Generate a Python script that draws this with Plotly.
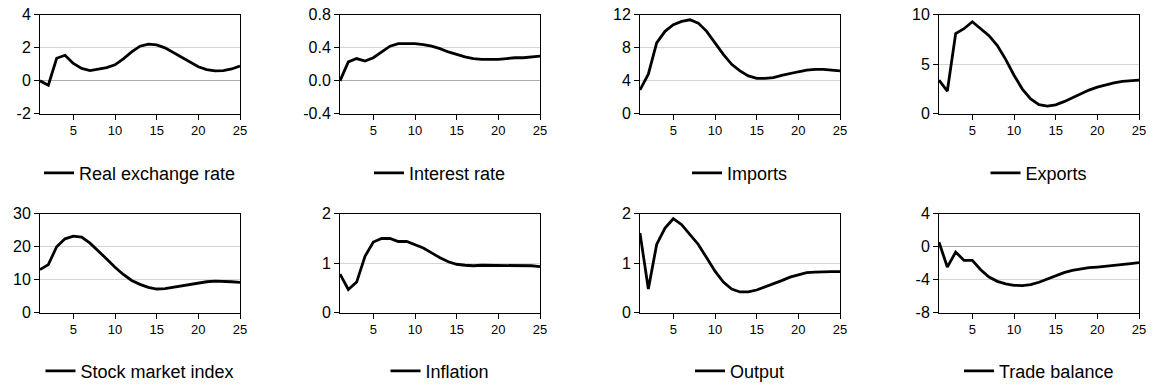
import plotly.graph_objects as go

periods = list(range(1, 26))

real_exchange_rate = [0.0, -0.27, 1.37, 1.55, 1.05, 0.75, 0.62, 0.73, 0.80, 0.97,
                      1.33, 1.75, 2.10, 2.23, 2.18, 2.00, 1.72, 1.42, 1.12, 0.85,
                      0.68, 0.60, 0.62, 0.72, 0.90]
interest_rate = [0.0, 0.23, 0.27, 0.24, 0.28, 0.35, 0.42, 0.45, 0.45, 0.45,
                 0.44, 0.42, 0.39, 0.35, 0.32, 0.29, 0.27, 0.26, 0.26, 0.26,
                 0.27, 0.28, 0.28, 0.29, 0.30]
imports = [2.9, 4.8, 8.6, 10.0, 10.8, 11.2, 11.4, 11.0, 10.0, 8.6,
           7.2, 6.0, 5.2, 4.6, 4.3, 4.3, 4.4, 4.65, 4.9, 5.1,
           5.3, 5.4, 5.4, 5.3, 5.2]
exports = [3.4, 2.3, 8.1, 8.6, 9.3, 8.6, 7.9, 6.9, 5.5, 3.9,
           2.5, 1.5, 0.93, 0.77, 0.9, 1.23, 1.63, 2.03, 2.4, 2.7,
           2.93, 3.13, 3.27, 3.33, 3.4]
stock_market_index = [13.1, 14.6, 20.0, 22.4, 23.2, 22.9, 21.1, 18.8, 16.3, 13.8,
                      11.6, 9.8, 8.6, 7.7, 7.2, 7.3, 7.7, 8.2, 8.7, 9.1,
                      9.4, 9.6, 9.6, 9.4, 9.2]
inflation = [0.78, 0.47, 0.62, 1.14, 1.43, 1.50, 1.50, 1.44, 1.44, 1.38,
             1.31, 1.21, 1.11, 1.03, 0.98, 0.96, 0.95, 0.96, 0.96, 0.96,
             0.96, 0.96, 0.96, 0.95, 0.93]
output = [1.61, 0.48, 1.38, 1.71, 1.90, 1.78, 1.58, 1.38, 1.11, 0.84,
          0.62, 0.48, 0.42, 0.42, 0.46, 0.52, 0.58, 0.65, 0.72, 0.77,
          0.81, 0.82, 0.83, 0.83, 0.83]
trade_balance = [0.56, -2.46, -0.64, -1.65, -1.65, -2.78, -3.66, -4.19, -4.50, -4.67,
                 -4.71, -4.59, -4.30, -3.90, -3.46, -3.14, -2.86, -2.66, -2.54, -2.46,
                 -2.38, -2.30, -2.17, -2.05, -1.93]

panel_names = ["Real exchange rate", "Interest rate", "Imports", "Exports",
               "Stock market index", "Inflation", "Output", "Trade balance"]
panel_series = [real_exchange_rate, interest_rate, imports, exports,
                stock_market_index, inflation, output, trade_balance]
y_ranges = [(-2, 4), (-0.4, 0.8), (0, 12), (0, 10),
            (0, 30), (0, 2), (0, 2), (-8, 4)]
y_tickvals = [[-2, 0, 2, 4], [-0.4, 0.0, 0.4, 0.8], [0, 4, 8, 12], [0, 5, 10],
              [0, 10, 20, 30], [0, 1, 2], [0, 1, 2], [-8, -4, 0, 4]]
y_ticktext = [["-2", "0", "2", "4"], ["-0.4", "0.0", "0.4", "0.8"],
              ["0", "4", "8", "12"], ["0", "5", "10"],
              ["0", "10", "20", "30"], ["0", "1", "2"], ["0", "1", "2"],
              ["-8", "-4", "0", "4"]]
x_tickvals = [5, 10, 15, 20, 25]

W, H = 1153, 390
col_left = [40, 340, 640, 939]
col_width = 200
row_top = [15, 216]
row_height = 100
legend_centre_y = [175, 375]

FONT = "Liberation Sans, Arial, sans-serif"

fig = go.Figure()
layout = dict(
    width=W, height=H,
    margin=dict(l=0, r=0, t=0, b=0),
    paper_bgcolor="white", plot_bgcolor="white",
    template="none",
    font=dict(family=FONT, color="black"),
    showlegend=True,
)

for i, (name, ys) in enumerate(zip(panel_names, panel_series)):
    r, c = divmod(i, 4)
    k = "" if i == 0 else str(i + 1)
    x0 = col_left[c] / W
    x1 = (col_left[c] + col_width) / W
    y1 = 1 - row_top[r] / H
    y0 = 1 - (row_top[r] + row_height) / H
    legend_id = "legend" + k

    fig.add_trace(go.Scatter(
        x=periods, y=ys, mode="lines", name=name,
        line=dict(color="black", width=2.8),
        xaxis="x" + k, yaxis="y" + k, legend=legend_id,
    ))

    layout["xaxis" + k] = dict(
        domain=[x0, x1], anchor="y" + k, range=[1, 25],
        tickmode="array", tickvals=x_tickvals,
        ticks="outside", ticklen=5, tickcolor="black", tickwidth=1,
        showline=True, linecolor="black", linewidth=1, mirror=True,
        showgrid=False, zeroline=False, automargin=False,
        tickfont=dict(size=13, family=FONT, color="black"),
    )
    layout["yaxis" + k] = dict(
        domain=[y0, y1], anchor="x" + k, range=list(y_ranges[i]),
        tickmode="array", tickvals=y_tickvals[i], ticktext=y_ticktext[i],
        ticks="outside", ticklen=5, tickcolor="black", tickwidth=1,
        showline=True, linecolor="black", linewidth=1, mirror=True,
        showgrid=True, gridcolor="#d4d4d4", gridwidth=1,
        zeroline=True, zerolinecolor="#ababab", zerolinewidth=1,
        automargin=False,
        tickfont=dict(size=16, family=FONT, color="black"),
    )
    layout[legend_id] = dict(
        x=(x0 + x1) / 2, xanchor="center",
        y=1 - legend_centre_y[r] / H, yanchor="middle",
        orientation="h", bgcolor="rgba(0,0,0,0)", borderwidth=0,
        font=dict(size=18, family=FONT, color="black"),
    )

fig.update_layout(**layout)
fig.write_html("out.html")
